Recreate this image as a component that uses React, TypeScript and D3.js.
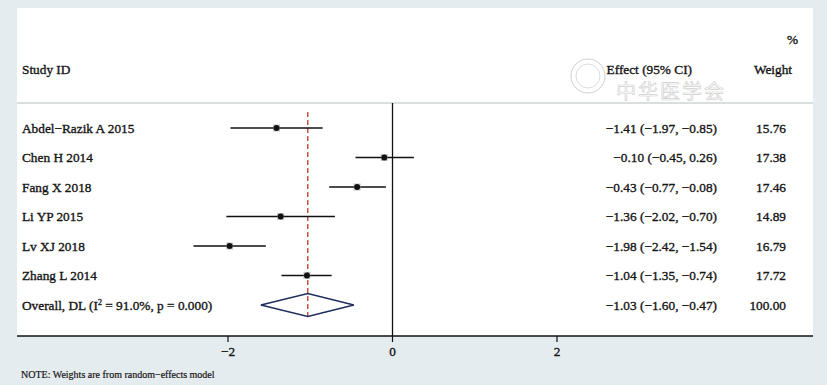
import React from "react";
import * as d3 from "d3";

const studies = ["Abdel\u2212Razik A 2015", "Chen H 2014", "Fang X 2018", "Li YP 2015", "Lv XJ 2018", "Zhang L 2014"];
const effects = [-1.41, -0.10, -0.43, -1.36, -1.98, -1.04];
const lowers = [-1.97, -0.45, -0.77, -2.02, -2.42, -1.35];
const uppers = [-0.85, 0.26, -0.08, -0.70, -1.54, -0.74];
const weights = [15.76, 17.38, 17.46, 14.89, 16.79, 17.72];
const overall = { label: "Overall, DL", est: -1.03, lo: -1.60, hi: -0.47, w: 100.0 };
const xTicks = [-2, 0, 2];

const W = 827, H = 385;
const fmt = (v: number) => (v < 0 ? "\u2212" : "") + Math.abs(v).toFixed(2);

export default function App() {
  const x = d3.scaleLinear().domain([-2, 2]).range([228, 557]);
  const rowY = d3.scalePoint<number>().domain(d3.range(7)).range([128, 305]);
  const font = "'Liberation Serif', 'Times New Roman', serif";
  const fs = 13.3;
  const axisY = 336;
  const effectRight = 717;
  const weightRight = 786;
  const txt = { fontSize: fs, fill: "#151515", stroke: "#151515", strokeWidth: 0.35 } as const;
  const diamond = `M${x(overall.lo)},${rowY(6)} L${x(overall.est)},${rowY(6)! - 11.5} L${x(overall.hi)},${rowY(6)} L${x(overall.est)},${rowY(6)! + 11.5} Z`;
  return (
    <svg width={W} height={H} style={{ position: "absolute", left: 0, top: 0, display: "block" }} fontFamily={font}>
      <rect x={0} y={0} width={W} height={H} fill="#e5ecef" />
      <rect x={17} y={8} width={796} height={axisY - 8} fill="#ffffff" />
      <line x1={17} x2={813} y1={103} y2={103} stroke="#cfd3d5" strokeWidth={1.5} />
      {/* watermark */}
      <g opacity={0.4}>
        <circle cx={588} cy={76} r={17} fill="none" stroke="#8a8a8a" strokeWidth={1} />
        <circle cx={588} cy={76} r={12} fill="none" stroke="#8a8a8a" strokeWidth={0.7} />
        <text x={616} y={99} fontSize={20} fill="none" stroke="#8a8a8a" strokeWidth={0.7} fontFamily="'Noto Sans CJK SC', sans-serif" letterSpacing={2}>中华医学会</text>
      </g>
      {/* headers */}
      <text x={22} y={74} {...txt}>Study ID</text>
      <text x={692} y={74} {...txt} textAnchor="end">Effect (95% CI)</text>
      <text x={792} y={74} {...txt} textAnchor="end">Weight</text>
      <text x={798} y={44} {...txt} textAnchor="end">%</text>
      {/* zero line */}
      <line x1={x(0)} x2={x(0)} y1={103} y2={axisY} stroke="#111" strokeWidth={1.3} />
      {/* overall dashed */}
      <line x1={x(overall.est)} x2={x(overall.est)} y1={112} y2={318} stroke="#c0392b" strokeWidth={1.3} strokeDasharray="5,3" />
      {studies.map((s, i) => {
        const y = rowY(i)!;
        const bs = 7;
        return (
          <g key={s}>
            <text x={22} y={y + 4.5} {...txt}>{s}</text>
            <line x1={x(lowers[i])} x2={x(uppers[i])} y1={y} y2={y} stroke="#111" strokeWidth={1.6} />
            <rect x={x(effects[i]) - bs / 2} y={y - bs / 2} width={bs} height={bs} fill="#a0a0a0" opacity={0.6} />
            <circle cx={x(effects[i])} cy={y} r={3} fill="#111" />
            <text x={effectRight} y={y + 4.5} {...txt} textAnchor="end">
              {`${fmt(effects[i])} (${fmt(lowers[i])}, ${fmt(uppers[i])})`}
            </text>
            <text x={weightRight} y={y + 4.5} {...txt} textAnchor="end">{weights[i].toFixed(2)}</text>
          </g>
        );
      })}
      <text x={22} y={rowY(6)! + 4.5} {...txt}>
        {overall.label} (I<tspan fontSize={8} dy={-5}>2</tspan><tspan dy={5}> = 91.0%, p = 0.000)</tspan>
      </text>
      <path d={diamond} fill="none" stroke="#1f2d5c" strokeWidth={1.4} />
      <text x={effectRight} y={rowY(6)! + 4.5} {...txt} textAnchor="end">
        {`${fmt(overall.est)} (${fmt(overall.lo)}, ${fmt(overall.hi)})`}
      </text>
      <text x={weightRight} y={rowY(6)! + 4.5} {...txt} textAnchor="end">{overall.w.toFixed(2)}</text>
      {/* axis */}
      <line x1={17} x2={813} y1={axisY} y2={axisY} stroke="#111" strokeWidth={1.6} />
      {xTicks.map((t) => (
        <g key={t}>
          <line x1={x(t)} x2={x(t)} y1={axisY} y2={axisY + 6} stroke="#111" strokeWidth={1.2} />
          <text x={x(t)} y={axisY + 20} {...txt} textAnchor="middle">{t < 0 ? "\u2212" + Math.abs(t) : t}</text>
        </g>
      ))}
      <text x={21} y={378} fontSize={10} fill="#151515" stroke="#151515" strokeWidth={0.2}>NOTE: Weights are from random{"\u2212"}effects model</text>
    </svg>
  );
}
